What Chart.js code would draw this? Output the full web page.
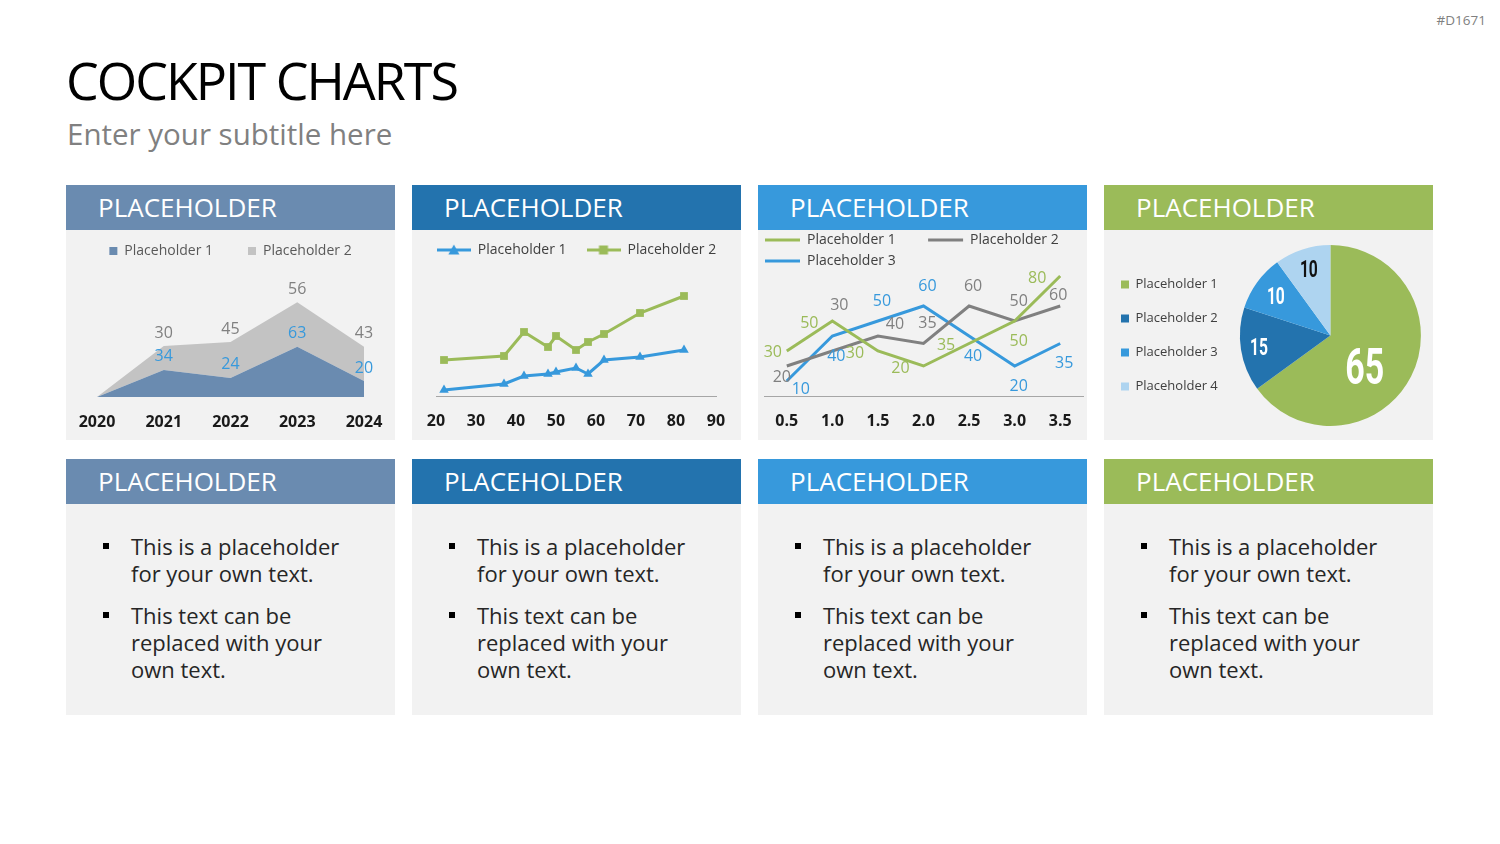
<!DOCTYPE html>
<html>
<head>
<meta charset="utf-8">
<script src="https://cdn.jsdelivr.net/npm/chart.js@4.4.1/dist/chart.umd.min.js"></script>
<style>
  body { margin: 0; width: 1500px; height: 844px; background: #fff; position: relative; overflow: hidden; font-family: "Open Sans", sans-serif; }
  .codigo { position: absolute; right: 14px; top: 11px; font-size: 13.5px; line-height: 18px; color: #808080; }
  .titulo { position: absolute; left: 66px; top: 54px; margin: 0; font-size: 52px; line-height: 52px; font-weight: 400; letter-spacing: -2px; color: #000; }
  .subtitulo { position: absolute; left: 67px; top: 119px; margin: 0; font-size: 29.5px; line-height: 29.5px; color: #808080; }
  .panel { position: absolute; width: 329px; }
  .cabecera { height: 45px; line-height: 45px; padding-left: 32px; font-size: 26px; color: #fff; }
  .cuerpo { background: #f2f2f2; position: relative; }
  .cuerpo canvas { display: block; }
  .texto { position: absolute; left: 65px; top: 29px; font-size: 22px; line-height: 27px; color: #262626; white-space: nowrap; }
  .texto p { margin: 0 0 15px 0; position: relative; }
  .texto p::before { content: ""; position: absolute; left: -28px; top: 10px; width: 6px; height: 6px; background: #000; }
</style>
</head>
<body>
<div class="codigo">#D1671</div>
<h1 class="titulo">COCKPIT CHARTS</h1>
<div class="subtitulo">Enter your subtitle here</div>

<div class="panel" style="left:66px; top:185px"><div class="cabecera" style="background:#6A8BB0">PLACEHOLDER</div><div class="cuerpo" style="height:210px"><canvas id="g1" width="329" height="210"></canvas></div></div>
<div class="panel" style="left:412px; top:185px"><div class="cabecera" style="background:#2373AE">PLACEHOLDER</div><div class="cuerpo" style="height:210px"><canvas id="g2" width="329" height="210"></canvas></div></div>
<div class="panel" style="left:758px; top:185px"><div class="cabecera" style="background:#3799DC">PLACEHOLDER</div><div class="cuerpo" style="height:210px"><canvas id="g3" width="329" height="210"></canvas></div></div>
<div class="panel" style="left:1104px; top:185px"><div class="cabecera" style="background:#9BBB59">PLACEHOLDER</div><div class="cuerpo" style="height:210px"><canvas id="g4" width="329" height="210"></canvas></div></div>

<div class="panel" style="left:66px; top:459px"><div class="cabecera" style="background:#6A8BB0">PLACEHOLDER</div><div class="cuerpo" style="height:211px"><div class="texto"><p>This is a placeholder<br>for your own text.</p><p>This text can be<br>replaced with your<br>own text.</p></div></div></div>
<div class="panel" style="left:412px; top:459px"><div class="cabecera" style="background:#2373AE">PLACEHOLDER</div><div class="cuerpo" style="height:211px"><div class="texto"><p>This is a placeholder<br>for your own text.</p><p>This text can be<br>replaced with your<br>own text.</p></div></div></div>
<div class="panel" style="left:758px; top:459px"><div class="cabecera" style="background:#3799DC">PLACEHOLDER</div><div class="cuerpo" style="height:211px"><div class="texto"><p>This is a placeholder<br>for your own text.</p><p>This text can be<br>replaced with your<br>own text.</p></div></div></div>
<div class="panel" style="left:1104px; top:459px"><div class="cabecera" style="background:#9BBB59">PLACEHOLDER</div><div class="cuerpo" style="height:211px"><div class="texto"><p>This is a placeholder<br>for your own text.</p><p>This text can be<br>replaced with your<br>own text.</p></div></div></div>

<script>
// datos de los graficos
const anios = ['2020', '2021', '2022', '2023', '2024'];
const area1 = [0, 34, 24, 63, 20];
const area2 = [0, 30, 45, 56, 43];

const dispX = [22, 37, 42, 48, 50, 55, 58, 62, 71, 82];
const disp1 = [3, 6, 10, 11, 12, 14, 11, 18, 19.5, 23];
const disp2 = [18, 20, 32, 24.5, 30, 23, 27, 31, 41.5, 50];

const lineasX = ['0.5', '1.0', '1.5', '2.0', '2.5', '3.0', '3.5'];
const linea1 = [30, 50, 30, 20, 35, 50, 80];
const linea2 = [20, 30, 40, 35, 60, 50, 60];
const linea3 = [10, 40, 50, 60, 40, 20, 35];

const tortaNombres = ['Placeholder 1', 'Placeholder 2', 'Placeholder 3', 'Placeholder 4'];
const torta = [65, 15, 10, 10];

const verde = '#9BBB59', azul = '#3799DC', gris = '#808080';

Chart.defaults.font.family = '"Open Sans", sans-serif';
Chart.defaults.animation = false;
Chart.defaults.plugins.tooltip.enabled = false;

// etiquetas de valores junto a los puntos
const etiquetas = {
  id: 'etiquetas',
  afterDatasetsDraw(chart, args, opts) {
    let ctx = chart.ctx;
    ctx.save();
    ctx.font = '16px "Open Sans", sans-serif';
    ctx.textAlign = 'center';
    ctx.textBaseline = 'middle';
    chart.data.datasets.forEach((ds, i) => {
      let pos = opts.posiciones[i];
      if (!pos) return;
      chart.getDatasetMeta(i).data.forEach((p, j) => {
        let v = ds.data[j];
        if (!v) return;
        let off = opts.desplazamientos[pos[j]];
        ctx.fillStyle = opts.colores[i];
        ctx.fillText(v, p.x + off[0], p.y + off[1]);
      });
    });
    ctx.restore();
  }
};

// numeros dentro de la torta
const etiquetasTorta = {
  id: 'etiquetasTorta',
  afterDatasetsDraw(chart, args, opts) {
    let ctx = chart.ctx;
    chart.getDatasetMeta(0).data.forEach((arc, j) => {
      let a = (arc.startAngle + arc.endAngle) / 2 + opts.giro[j] * Math.PI / 180;
      let r = arc.outerRadius * opts.radios[j];
      let t = opts.tamanos[j];
      ctx.save();
      ctx.translate(arc.x + Math.cos(a) * r, arc.y + Math.sin(a) * r);
      ctx.scale(0.68, 1);
      ctx.font = 'bold ' + t + 'px Roboto, sans-serif';
      ctx.fillStyle = opts.colores[j];
      ctx.textAlign = 'center';
      ctx.textBaseline = 'alphabetic';
      ctx.fillText(torta[j], 0, t * 0.355);
      ctx.restore();
    });
  }
};

let iconoLeyenda = (color, forma) => {
  let c = document.createElement('canvas');
  c.width = 34; c.height = 12;
  let x = c.getContext('2d');
  x.strokeStyle = color; x.fillStyle = color; x.lineWidth = 3;
  x.beginPath(); x.moveTo(0, 6); x.lineTo(34, 6); x.stroke();
  if (forma === 'triangle') {
    x.beginPath(); x.moveTo(17, 0.5); x.lineTo(22.5, 10.5); x.lineTo(11.5, 10.5); x.closePath(); x.fill();
  } else {
    x.fillRect(12.5, 1.5, 9, 9);
  }
  return c;
};

// eje x comun: margenes laterales y alto fijados despues del ajuste
let ejeX = (izq, der, alto, extra) => Object.assign({
  grid: { display: false, drawTicks: false },
  border: { display: true, color: '#A6A6A6', width: 1 },
  ticks: { padding: 16, color: '#1a1a1a', font: { size: 16, weight: 'bold' }, maxRotation: 0 },
  afterFit: (eje) => {
    eje.paddingLeft = izq;
    eje.paddingRight = der;
    eje.height = alto;
  }
}, extra);

// grafico 1: areas apiladas
new Chart(document.getElementById('g1'), {
  type: 'line',
  data: {
    labels: anios,
    datasets: [
      { label: 'Placeholder 1', data: area1, fill: 'origin', backgroundColor: '#6A8BB0', borderColor: '#6A8BB0', borderWidth: 0, pointRadius: 0 },
      { label: 'Placeholder 2', data: area2, fill: '-1', backgroundColor: '#C3C3C3', borderColor: '#C3C3C3', borderWidth: 0, pointRadius: 0 }
    ]
  },
  options: {
    responsive: false,
    layout: { padding: { top: -21, left: 0, right: 0, bottom: 0 } },
    scales: {
      x: ejeX(31, 31, 43, { border: { display: false } }),
      y: { display: false, stacked: true, min: 0, max: 162 }
    },
    plugins: {
      legend: { labels: { boxWidth: 8, boxHeight: 8, padding: 35, color: '#595959', font: { size: 14 } } },
      etiquetas: {
        posiciones: [['t', 't', 't', 't', 't'], ['t', 't', 't', 't', 't']],
        desplazamientos: { t: [0, -13] },
        colores: [azul, gris]
      }
    }
  },
  plugins: [etiquetas]
});

// grafico 2: dispersion con lineas
new Chart(document.getElementById('g2'), {
  type: 'scatter',
  data: {
    datasets: [
      { label: 'Placeholder 1', data: dispX.map((x, i) => ({ x: x, y: disp1[i] })), showLine: true, borderColor: azul, backgroundColor: azul, borderWidth: 3, pointStyle: 'triangle', pointRadius: 5.5, pointBorderWidth: 0 },
      { label: 'Placeholder 2', data: dispX.map((x, i) => ({ x: x, y: disp2[i] })), showLine: true, borderColor: verde, backgroundColor: verde, borderWidth: 3, pointStyle: 'rect', pointRadius: 5.5, pointBorderWidth: 0 }
    ]
  },
  options: {
    responsive: false,
    layout: { padding: { top: -7, left: 0, right: 0, bottom: 0 } },
    scales: {
      x: ejeX(24, 25, 44, { type: 'linear', min: 20, max: 90 }),
      y: { display: false, min: 0, max: 64.5 }
    },
    plugins: {
      legend: {
        labels: {
          usePointStyle: true, pointStyleWidth: 34, padding: 20, color: '#404040', font: { size: 14 },
          generateLabels: (chart) => Chart.defaults.plugins.legend.labels.generateLabels(chart).map((l, i) => {
            l.pointStyle = iconoLeyenda(i === 0 ? azul : verde, i === 0 ? 'triangle' : 'rect');
            return l;
          })
        }
      }
    }
  }
});
Chart.getChart('g2').options.scales.x.ticks.stepSize = 10;
Chart.getChart('g2').update();

// grafico 3: lineas
new Chart(document.getElementById('g3'), {
  type: 'line',
  data: {
    labels: lineasX,
    datasets: [
      { label: 'Placeholder 1', data: linea1, borderColor: verde, backgroundColor: verde, borderWidth: 3, pointRadius: 0 },
      { label: 'Placeholder 2', data: linea2, borderColor: gris, backgroundColor: gris, borderWidth: 3, pointRadius: 0 },
      { label: 'Placeholder 3', data: linea3, borderColor: azul, backgroundColor: azul, borderWidth: 3, pointRadius: 0 }
    ]
  },
  options: {
    responsive: false,
    layout: { padding: { top: -4, left: 0, right: 0, bottom: 0 } },
    scales: {
      x: ejeX(6, 4, 44, { offset: true }),
      y: { display: false, min: 0, max: 84 }
    },
    plugins: {
      legend: {
        align: 'start', maxHeight: 44,
        labels: {
          usePointStyle: true, pointStyle: 'line', pointStyleWidth: 35, padding: 7, color: '#404040', font: { size: 14 },
          // espacio extra tras el primer elemento para alinear las columnas
          generateLabels: (chart) => Chart.defaults.plugins.legend.labels.generateLabels(chart).map((l, i) => {
            if (i === 0) l.text = l.text + ' '.repeat(7);
            return l;
          })
        }
      },
      etiquetas: {
        posiciones: [
          ['l0', 'l', 'l', 'l', 'l', 'b', 'l'],
          ['bl', 'tt', 'tr', 't', 't', 't', 'tc'],
          ['br', 'b', 't', 't', 'b', 'b', 'b']
        ],
        desplazamientos: {
          l0: [-14, 1], l: [-23, 2], b: [4, 20], t: [4, -20], tt: [7, -46], tr: [17, -12],
          tc: [-2, -11], bl: [-5, 11], br: [14, 8]
        },
        colores: [verde, gris, azul]
      }
    }
  },
  plugins: [etiquetas]
});

// grafico 4: torta
new Chart(document.getElementById('g4'), {
  type: 'pie',
  data: {
    labels: tortaNombres,
    datasets: [{ data: torta, backgroundColor: [verde, '#2373AE', azul, '#AED4F0'], borderWidth: 0 }]
  },
  options: {
    responsive: false,
    layout: { padding: { top: 15, bottom: 14, left: -4, right: 0 } },
    plugins: {
      legend: { position: 'left', labels: { boxWidth: 8, boxHeight: 8, padding: 21, color: '#404040', font: { size: 13 } } },
      etiquetasTorta: { radios: [0.51, 0.8, 0.745, 0.77], giro: [15, 0, 0, 0], tamanos: [50, 23, 23, 23], colores: ['#fff', '#fff', '#fff', '#111'] }
    }
  },
  plugins: [etiquetasTorta]
});
</script>
</body>
</html>
